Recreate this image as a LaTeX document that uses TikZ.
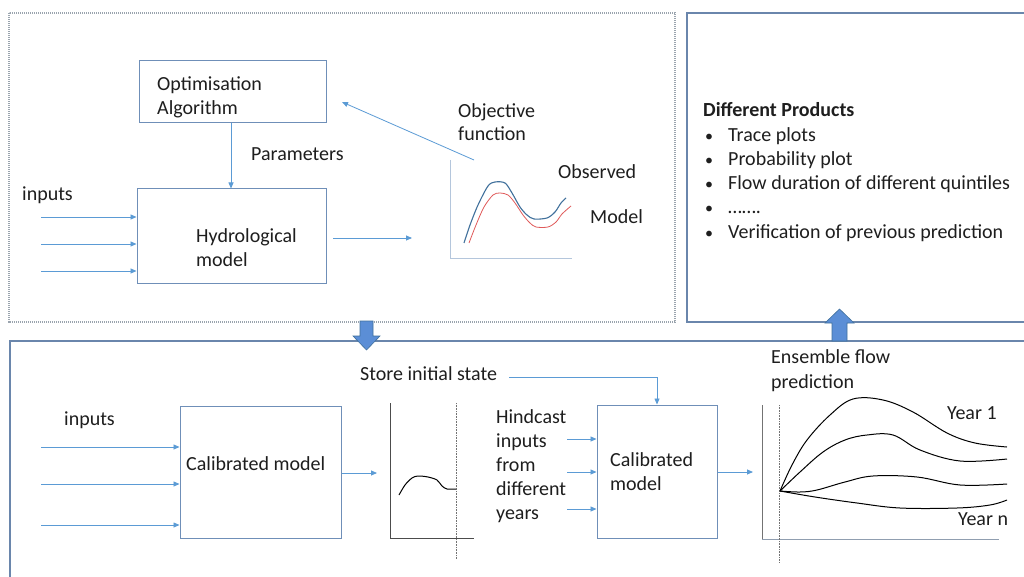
\documentclass[tikz,border=0pt]{standalone}
\usepackage{fontspec}
\setmainfont{Carlito}
\usetikzlibrary{arrows.meta}
\definecolor{connc}{HTML}{5B9BD5}
\definecolor{boxc}{HTML}{6F8FB8}
\definecolor{panelc}{HTML}{6A86AC}
\definecolor{dotc}{HTML}{9AA4AE}
\definecolor{textc}{HTML}{1E1E1E}
\definecolor{axisc}{HTML}{B4C6DC}
\definecolor{obsc}{HTML}{41719C}
\definecolor{modc}{HTML}{E05A5A}
\definecolor{blockc}{HTML}{5B8ED6}
\definecolor{blockd}{HTML}{41719C}
\begin{document}
\begin{tikzpicture}[x=1pt,y=-1pt,
  txt/.style={font=\fontsize{20}{24}\selectfont, text=textc, inner sep=0pt, anchor=base west},
  btxt/.style={txt, font=\fontsize{20}{24}\selectfont\bfseries},
  box/.style={draw=boxc, line width=1pt, fill=white, inner sep=0pt},
  conn/.style={draw=connc, line width=0.8pt, -{Triangle[width=5pt,length=6pt]}},
  axisl/.style={draw=axisc, line width=1pt},
  darkax/.style={draw=black!70, line width=0.9pt},
  dotax/.style={draw=black!55, line width=0.8pt, dash pattern=on 1pt off 0.6pt},
  curve/.style={draw=black, line width=1pt},
  block/.style={fill=blockc, draw=blockd, line width=0.6pt}]
\useasboundingbox (0,0) rectangle (1024,577);
\clip (0,0) rectangle (1024,577);
\fill[white] (0,0) rectangle (1024,577);

% panels
\draw[draw=dotc, line width=1.2pt, dash pattern=on 1.2pt off 0.8pt] (9,13) rectangle (675,322);
\draw[draw=panelc, line width=1.1pt] (687,13) rectangle (1040,322);
\draw[draw=panelc, line width=1.1pt] (10,341) rectangle (1040,600);

% block arrows
\path[block] (360,321) -- (373,321) -- (373,336) -- (380,336) -- (366.5,350) -- (353,336) -- (360,336) -- cycle;
\path[block] (832,341) -- (847,341) -- (847,323) -- (854,323) -- (839.5,309) -- (825,323) -- (832,323) -- cycle;

% ---------------- top-left panel ----------------
\node[box, minimum width=187pt, minimum height=62pt] (opt) at (232.5,92) {};
\node[txt] (optA) at (157,91) {Optimisation};
\node[txt] (optB) at (157,115) {Algorithm};

\node[box, minimum width=189pt, minimum height=94pt] (hyd) at (231.5,236) {};
\node[txt] (hydA) at (196,242) {Hydrological};
\node[txt] (hydB) at (196,266) {model};

\draw[conn] (opt.south -| 231,0) -- (hyd.north -| 231,0);
\node[txt] (par) at (251,161) {Parameters};

\node[txt] (inT) at (22,201) {inputs};
\coordinate (inA) at (41,217);
\coordinate (inB) at (41,244);
\coordinate (inC) at (41,271);
\draw[conn] (inA) -- (inA -| hyd.west);
\draw[conn] (inB) -- (inB -| hyd.west);
\draw[conn] (inC) -- (inC -| hyd.west);

\coordinate (hydOut) at (333,238);
\coordinate (chartIn) at (412,238);
\draw[conn] (hydOut) -- (chartIn);

% objective chart
\draw[axisl] (450.5,160) -- (450.5,258) -- (572,258);
\coordinate (objS) at (474,160);
\coordinate (objE) at (342,102);
\draw[conn] (objS) -- (objE);
\node[txt] (objA) at (458,118) {Objective};
\node[txt] (objB) at (458,141) {function};
\draw[draw=obsc, line width=1.1pt] plot[smooth, tension=0.5] coordinates {(464,243) (470,225) (478,205) (488,186) (495,182) (505,183) (512,193) (520,207) (527,215) (534,219) (547,218) (555,212) (561,203) (566,198)};
\draw[draw=modc, line width=0.8pt] plot[smooth, tension=0.5] coordinates {(469,243) (476,225) (484,207) (493,195) (500,193) (508,195) (515,203) (523,215) (530,223) (536,227) (548,227) (556,222) (562,214) (571,206)};
\node[txt] (obsT) at (558,179) {Observed};
\node[txt] (modT) at (590,223) {Model};

% ---------------- right panel ----------------
\node[btxt] (prodT) at (703,117) {Different Products};
\foreach \y/\t [count=\i] in {141.2/Trace plots, 165.4/Probability plot, 189.6/Flow duration of different quintiles, 213.8/……., 238/Verification of previous prediction}{
  \node[txt, font=\fontsize{16}{20}\selectfont] (bul\i) at (705,\y) {•};
  \node[txt] (item\i) at (728,\y) {\t};
}

% ---------------- bottom panel ----------------
\node[txt] (in2T) at (64,425) {inputs};
\node[box, minimum width=161pt, minimum height=132pt] (cal1) at (260.5,472) {};
\node[txt] (cal1T) at (186,470) {Calibrated model};
\coordinate (in2A) at (41,447);
\coordinate (in2B) at (41,484);
\coordinate (in2C) at (41,525);
\draw[conn] (in2A) -- (in2A -| cal1.west);
\draw[conn] (in2B) -- (in2B -| cal1.west);
\draw[conn] (in2C) -- (in2C -| cal1.west);
\coordinate (st1) at (377,473);
\draw[conn] (cal1.east |- st1) -- (st1);

% initial state chart
\draw[darkax] (390,403) -- (390,538) -- (474,538);
\draw[dotax] (456,403) -- (456,559);
\draw[curve] plot[smooth, tension=0.5] coordinates {(399,495) (405,485) (412,478) (418,476) (428,477) (437,480) (442,486) (447,489) (456,489)};

\node[txt] (storeT) at (360,380) {Store initial state};
\node[box, minimum width=120pt, minimum height=133pt] (cal2) at (657,471.5) {};
\node[txt] (cal2A) at (610,466) {Calibrated};
\node[txt] (cal2B) at (610,490) {model};
\coordinate (storeS) at (509,377);
\draw[conn] (storeS) -| (cal2.north);

\node[txt] (hA) at (496,423) {Hindcast};
\node[txt] (hB) at (496,447) {inputs};
\node[txt] (hC) at (496,471) {from};
\node[txt] (hD) at (496,495) {different};
\node[txt] (hE) at (496,519) {years};
\coordinate (h2A) at (567,439);
\coordinate (h2B) at (567,472);
\coordinate (h2C) at (567,509);
\draw[conn] (h2A) -- (h2A -| cal2.west);
\draw[conn] (h2B) -- (h2B -| cal2.west);
\draw[conn] (h2C) -- (h2C -| cal2.west);
\coordinate (ens1) at (753,472);
\draw[conn] (cal2.east |- ens1) -- (ens1);

% ensemble chart
\node[txt] (ensA) at (771,363) {Ensemble flow};
\node[txt] (ensB) at (771,388) {prediction};
\draw[draw=black!55, line width=0.8pt] (762,405) -- (762,540);
\draw[draw=axisc!80!black, line width=0.8pt] (762,539) -- (999,539);
\draw[dotax] (779,405) -- (779,563);
\draw[curve] plot[smooth, tension=0.6] coordinates {(780,491) (792,465) (807,440) (830,415) (853,399) (883,400) (913,412) (947,433) (975,443) (1007,447)};
\draw[curve] plot[smooth, tension=0.6] coordinates {(780,491) (800,472) (823,452) (845,440) (867,435) (893,435) (920,450) (960,461) (1007,459)};
\draw[curve] plot[smooth, tension=0.6] coordinates {(780,491) (800,492) (817,490) (845,482) (873,476) (917,477) (960,485) (1007,484)};
\draw[curve] plot[smooth, tension=0.6] coordinates {(780,491) (815,497) (857,503) (900,508) (957,508) (990,505) (1007,500)};
\node[txt] (y1) at (947,419) {Year 1};
\node[txt] (yn) at (958,525) {Year n};
\end{tikzpicture}
\end{document}
